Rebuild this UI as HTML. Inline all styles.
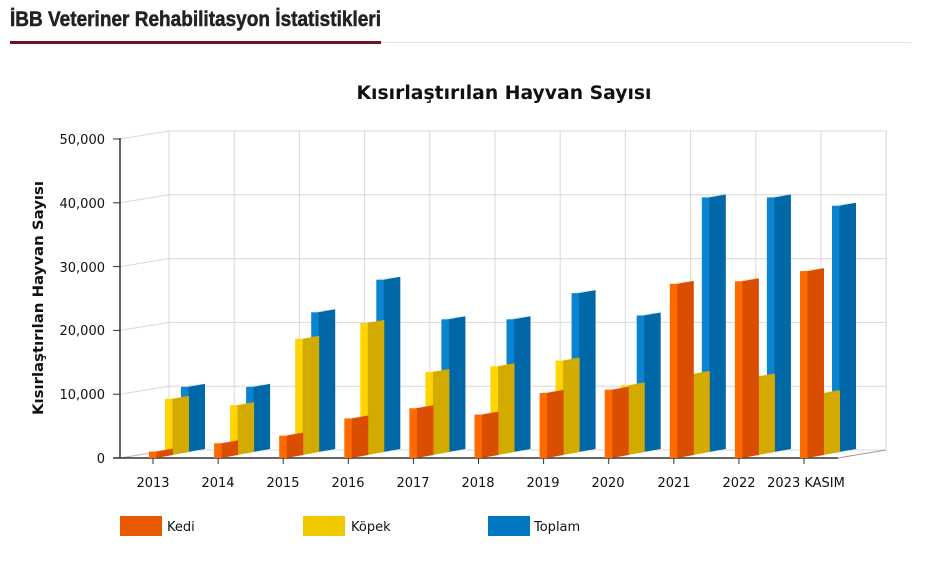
<!DOCTYPE html>
<html><head><meta charset="utf-8"><style>
html,body{margin:0;padding:0;background:#fff;width:927px;height:572px;overflow:hidden}
text{font-family:"DejaVu Sans","Liberation Sans",sans-serif}
</style></head><body>
<svg id="s" width="927" height="572" viewBox="0 0 927 572" xmlns="http://www.w3.org/2000/svg">
<text x="10" y="26" font-weight="bold" font-size="21" fill="#222" stroke="#222" stroke-width="0.5" textLength="371" lengthAdjust="spacingAndGlyphs" style="font-family:'Liberation Sans Narrow','Liberation Sans',sans-serif">İBB Veteriner Rehabilitasyon İstatistikleri</text>
<rect x="381" y="42" width="530" height="1" fill="#e2e2e2"/>
<rect x="10" y="41" width="371" height="3" fill="#6e1420"/>
<text x="504" y="99" text-anchor="middle" font-weight="bold" font-size="18.5" fill="#111" textLength="295" lengthAdjust="spacingAndGlyphs">Kısırlaştırılan Hayvan Sayısı</text>
<text transform="translate(43,298) rotate(-90)" text-anchor="middle" font-weight="bold" font-size="14" fill="#111" textLength="234" lengthAdjust="spacingAndGlyphs">Kısırlaştırılan Hayvan Sayısı</text>
<g id="grid" stroke="#d8d8d8" stroke-width="1" fill="none"></g>
<g id="bars"></g>
<g font-size="13" fill="#111" text-anchor="end">
<text x="105" y="144">50,000</text><text x="105" y="208">40,000</text><text x="105" y="272">30,000</text>
<text x="105" y="335">20,000</text><text x="105" y="399">10,000</text><text x="105" y="463">0</text>
</g>
<g font-size="13" fill="#111" text-anchor="middle">
<text x="153" y="487">2013</text><text x="218" y="487">2014</text><text x="283" y="487">2015</text><text x="348" y="487">2016</text>
<text x="413" y="487">2017</text><text x="478" y="487">2018</text><text x="543" y="487">2019</text><text x="608" y="487">2020</text>
<text x="674" y="487">2021</text><text x="739" y="487">2022</text><text x="806" y="487">2023 KASIM</text>
</g>
<rect x="120" y="516" width="42" height="20" fill="#e85a00"/>
<rect x="303" y="516" width="42" height="20" fill="#f0c800"/>
<rect x="488" y="516" width="42" height="20" fill="#0077c0"/>
<g font-size="13" fill="#111"><text x="167" y="531">Kedi</text><text x="351" y="531">Köpek</text><text x="534" y="531">Toplam</text></g>
</svg>
<script>
var NS="http://www.w3.org/2000/svg";
function el(p,t,a){var e=document.createElementNS(NS,t);for(var k in a)e.setAttribute(k,a[k]);p.appendChild(e);return e;}
var g=document.getElementById("grid"),b=document.getElementById("bars");
for(var i=0;i<=5;i++){var yf=458-i*63.8,yb=yf-8;
 el(g,"line",{x1:120,y1:yf,x2:169,y2:yb});
 el(g,"line",{x1:169,y1:yb,x2:886,y2:yb});}
for(var i=0;i<=11;i++){var x=169+i*65.2;el(g,"line",{x1:x,y1:130,x2:x,y2:450});}
el(g,"line",{x1:838,y1:458,x2:886,y2:450,stroke:"#999"});
el(g,"line",{x1:120,y1:458,x2:169,y2:450,stroke:"#bbb"});
el(b,"line",{x1:120,y1:138,x2:120,y2:458,stroke:"#333","stroke-width":1.5});
el(b,"line",{x1:113,y1:458,x2:838,y2:458,stroke:"#333","stroke-width":1.5});
for(var i=0;i<=5;i++)el(b,"line",{x1:113,y1:458-i*63.8,x2:120,y2:458-i*63.8,stroke:"#333"});
for(var i=0;i<11;i++){var x=153+i*65.1;el(b,"line",{x1:x,y1:458,x2:x,y2:464,stroke:"#333"});}
var data=[
 [1000,2300,3500,6200,7800,6800,10200,10700,27300,27700,29300],
 [8800,7800,18200,20700,13000,13900,14800,10900,12700,12300,9700],
 [10200,10200,21900,27000,20800,20800,24900,21400,39900,39900,38600]];
var cols=[["#ff6a00","#d94e00","#ff8a40"],["#ffd400","#d2aa00","#ffe050"],["#0a84d0","#0068a6","#2a9ae0"]];
for(var s=2;s>=0;s--){for(var i=0;i<11;i++){
 var c=153+i*65.1,x0=c-4+s*16,yb=458-s*3,h=data[s][i]*0.00638,yt=yb-h;
 var c0=cols[s];
 el(b,"polygon",{points:(x0+7)+","+yb+" "+(x0+24)+","+(yb-3)+" "+(x0+24)+","+(yt-3)+" "+(x0+7)+","+yt,fill:c0[1]});
 el(b,"rect",{x:x0,y:yt,width:7.5,height:h,fill:c0[0]});
 el(b,"polygon",{points:x0+","+yt+" "+(x0+7)+","+(yt-1)+" "+(x0+24)+","+(yt-3)+" "+(x0+17)+","+(yt-2),fill:c0[2]});
}}
</script>
</body></html>
